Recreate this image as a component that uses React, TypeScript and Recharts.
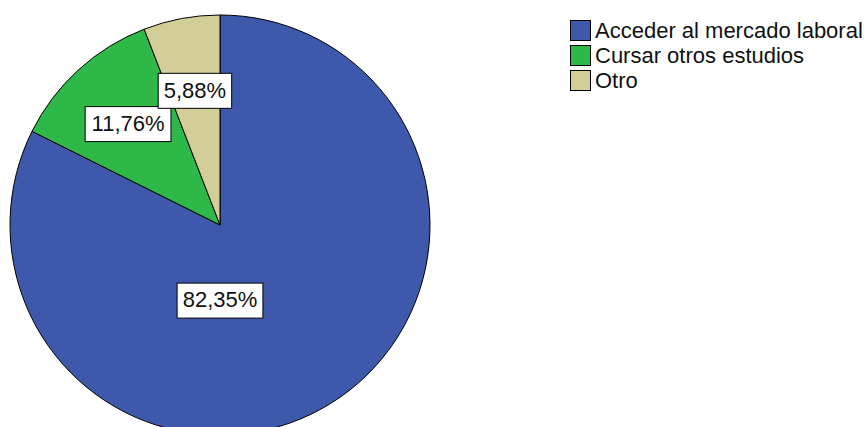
import { Pie, PieChart, Cell } from "recharts";

const categories = ["Acceder al mercado laboral", "Cursar otros estudios", "Otro"];
const percentages = [82.35, 11.76, 5.88];
const sliceColors = ["#3e58ac", "#2eb848", "#d3ce97"];

const data = categories.map((name, i) => ({ name, value: percentages[i] }));

const FONT = "'Liberation Sans', Arial, sans-serif";
const RAD = Math.PI / 180;

interface LabelProps {
  cx?: number;
  cy?: number;
  midAngle?: number;
  outerRadius?: number;
  percent?: number;
  value?: number;
}

function BoxLabel({ cx = 0, cy = 0, midAngle = 0, outerRadius = 0, percent = 0, value = 0 }: LabelProps) {
  // big slice label sits straight below the centre, small ones along their mid angle
  const big = percent > 0.5;
  const angle = big ? -90 : midAngle;
  const r = outerRadius * (big ? 0.36 : 0.65);
  const x = cx + r * Math.cos(angle * RAD);
  const y = cy - r * Math.sin(angle * RAD);
  const text = value.toFixed(2).replace(".", ",") + "%";
  const w = text.length * 12.3 + 12;
  const h = 35;
  return (
    <g>
      <rect x={x - w / 2} y={y - h / 2} width={w} height={h} fill="#fff" stroke="#000" strokeWidth={1} />
      <text x={x} y={y + 1} textAnchor="middle" dominantBaseline="middle" fontSize={22} fontFamily={FONT} fill="#111">
        {text}
      </text>
    </g>
  );
}

function SquareLegend() {
  return (
    <div style={{ position: "absolute", left: 570, top: 18, fontFamily: FONT, fontSize: 22, color: "#111", whiteSpace: "nowrap" }}>
      {categories.map((name, i) => (
        <div key={name} style={{ display: "flex", alignItems: "center", height: 25 }}>
          <span
            style={{
              display: "inline-block",
              width: 19,
              height: 19,
              background: sliceColors[i],
              border: "1px solid #000",
              marginRight: 4,
            }}
          />
          <span>{name}</span>
        </div>
      ))}
    </div>
  );
}

export default function App() {
  return (
    <div style={{ position: "absolute", left: 0, top: 0, width: 864, height: 427, background: "#fff", overflow: "hidden" }}>
      <PieChart width={864} height={427} margin={{ top: 0, right: 0, bottom: 0, left: 0 }}>
        <Pie
          data={data}
          dataKey="value"
          nameKey="name"
          cx={220}
          cy={225}
          outerRadius={210}
          startAngle={90}
          endAngle={-270}
          stroke="#000"
          strokeWidth={1}
          label={<BoxLabel />}
          labelLine={false}
          isAnimationActive={false}
        >
          {data.map((_, i) => (
            <Cell key={i} fill={sliceColors[i]} />
          ))}
        </Pie>
      </PieChart>
      <SquareLegend />
    </div>
  );
}
